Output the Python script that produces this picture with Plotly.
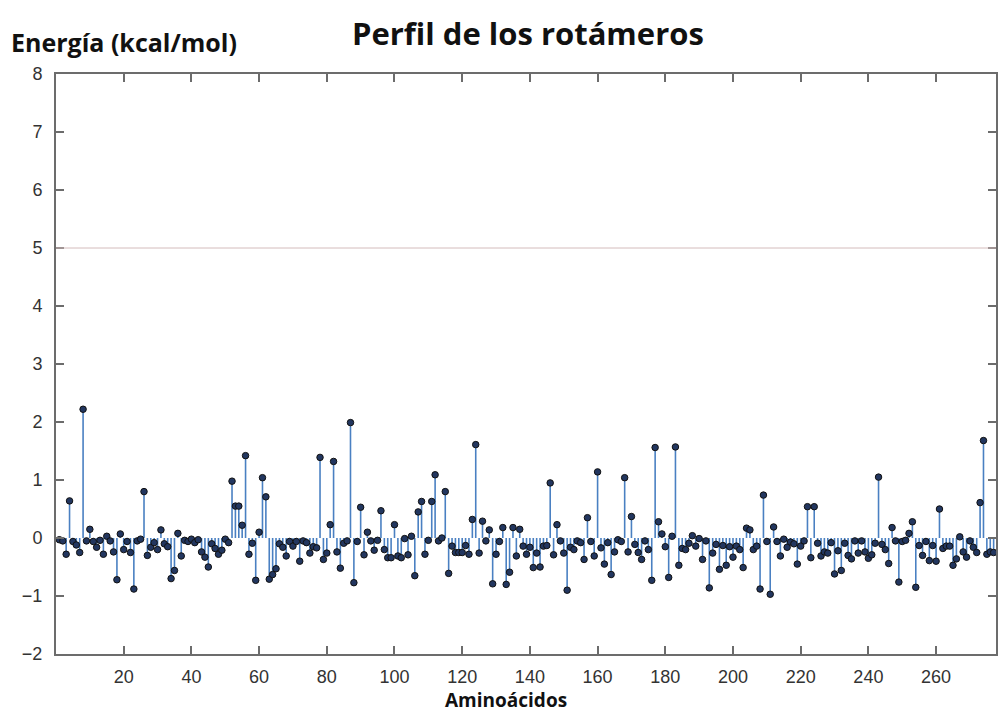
import plotly.graph_objects as go

# Rotamer energy per residue (kcal/mol)
energia = [
    -0.03, -0.05, -0.28, 0.64, -0.06, -0.12, -0.25, 2.22, -0.05, 0.15,
    -0.06, -0.16, -0.04, -0.28, 0.03, -0.05, -0.24, -0.72, 0.07, -0.20,
    -0.06, -0.25, -0.88, -0.05, -0.02, 0.80, -0.30, -0.16, -0.08, -0.20,
    0.14, -0.10, -0.15, -0.70, -0.56, 0.08, -0.31, -0.04, -0.06, -0.02,
    -0.08, -0.03, -0.24, -0.33, -0.50, -0.10, -0.18, -0.28, -0.21, -0.02,
    -0.08, 0.98, 0.55, 0.55, 0.22, 1.42, -0.28, -0.09, -0.73, 0.10,
    1.04, 0.71, -0.71, -0.63, -0.53, -0.10, -0.16, -0.31, -0.06, -0.14,
    -0.06, -0.40, -0.05, -0.08, -0.26, -0.15, -0.17, 1.39, -0.37, -0.26,
    0.23, 1.32, -0.24, -0.52, -0.09, -0.05, 1.99, -0.77, -0.06, 0.53,
    -0.29, 0.10, -0.05, -0.21, -0.04, 0.47, -0.20, -0.34, -0.34, 0.23,
    -0.31, -0.34, -0.01, -0.29, 0.03, -0.65, 0.45, 0.63, -0.28, -0.04,
    0.63, 1.09, -0.05, 0.00, 0.80, -0.61, -0.14, -0.25, -0.25, -0.25,
    -0.13, -0.28, 0.32, 1.61, -0.26, 0.29, -0.05, 0.14, -0.79, -0.28,
    -0.06, 0.18, -0.80, -0.59, 0.18, -0.31, 0.15, -0.14, -0.28, -0.16,
    -0.51, -0.26, -0.50, -0.14, -0.13, 0.95, -0.29, 0.23, -0.05, -0.26,
    -0.90, -0.16, -0.20, -0.05, -0.08, -0.37, 0.35, -0.06, -0.31, 1.14,
    -0.17, -0.45, -0.08, -0.63, -0.24, -0.03, -0.06, 1.04, -0.24, 0.37,
    -0.11, -0.25, -0.37, -0.05, -0.20, -0.73, 1.56, 0.28, 0.07, -0.15,
    -0.68, 0.03, 1.57, -0.47, -0.18, -0.20, -0.09, 0.04, -0.14, -0.01,
    -0.37, -0.05, -0.86, -0.26, -0.11, -0.54, -0.13, -0.47, -0.15, -0.33,
    -0.14, -0.20, -0.51, 0.17, 0.14, -0.20, -0.14, -0.88, 0.74, -0.06,
    -0.97, 0.19, -0.06, -0.31, -0.02, -0.16, -0.07, -0.10, -0.45, -0.14,
    -0.05, 0.54, -0.34, 0.54, -0.09, -0.31, -0.24, -0.26, -0.08, -0.62,
    -0.22, -0.56, -0.09, -0.30, -0.36, -0.05, -0.26, -0.05, -0.24, -0.35,
    -0.29, -0.09, 1.05, -0.11, -0.20, -0.44, 0.18, -0.05, -0.76, -0.06,
    -0.04, 0.08, 0.28, -0.85, -0.13, -0.30, -0.06, -0.39, -0.13, -0.40,
    0.50, -0.18, -0.14, -0.14, -0.47, -0.36, 0.02, -0.24, -0.33, -0.05,
    -0.16, -0.25, 0.61, 1.68, -0.28, -0.24, -0.25,
]
residuos = list(range(1, len(energia) + 1))

umbral = 5
y_ticks = list(range(-2, 9))
x_ticks = list(range(20, 261, 20))

# vertical stems from zero to each value
stem_x, stem_y = [], []
for r, e in zip(residuos, energia):
    stem_x += [r, r, None]
    stem_y += [0, e, None]

fig = go.Figure()
fig.add_trace(go.Scatter(
    x=stem_x, y=stem_y, mode="lines",
    line=dict(color="#4a80c2", width=1.6),
    hoverinfo="skip", showlegend=False,
))
fig.add_trace(go.Scatter(
    x=residuos, y=energia, mode="markers",
    marker=dict(size=6.5, color="#22365f", line=dict(color="#111111", width=1)),
    showlegend=False,
))

fig.add_shape(type="line", xref="paper", yref="y", x0=0, x1=1, y0=umbral, y1=umbral,
              line=dict(color="rgb(212,188,188)", width=1))

axis_common = dict(
    showline=True, linecolor="#6c6c6c", linewidth=2, mirror="ticks",
    ticks="inside", ticklen=8, tickwidth=2, tickcolor="#6c6c6c",
    showgrid=False, zeroline=False,
    tickfont=dict(family="Liberation Sans, Arial, sans-serif", size=18, color="#333333"),
)

fig.update_xaxes(range=[0, 277.7], tickvals=x_ticks, ticklabelstandoff=5, **axis_common)
fig.update_yaxes(range=[-2, 8], tickvals=y_ticks, ticklabelstandoff=8, **axis_common)

fig.update_layout(
    width=998, height=714,
    margin=dict(l=56, r=0, t=74, b=60),
    paper_bgcolor="white", plot_bgcolor="white",
    showlegend=False,
    annotations=[
        dict(text="Perfil de los rotámeros", xref="paper", yref="paper",
             x=0.5, y=1, xshift=2, yshift=41, showarrow=False,
             xanchor="center", yanchor="middle",
             font=dict(family="Open Sans, sans-serif", size=31, color="#111111", weight="bold")),
        dict(text="Energía (kcal/mol)", xref="paper", yref="paper",
             x=0, y=1, xshift=-47, yshift=32, showarrow=False,
             xanchor="left", yanchor="middle",
             font=dict(family="Open Sans, sans-serif", size=25, color="#111111", weight="bold")),
        dict(text="Aminoácidos", xref="paper", yref="paper",
             x=0.5, y=0, xshift=-20, yshift=-46, showarrow=False,
             xanchor="center", yanchor="middle",
             font=dict(family="Open Sans, sans-serif", size=19, color="#111111", weight="bold")),
    ],
)

fig.write_html("out.html")
